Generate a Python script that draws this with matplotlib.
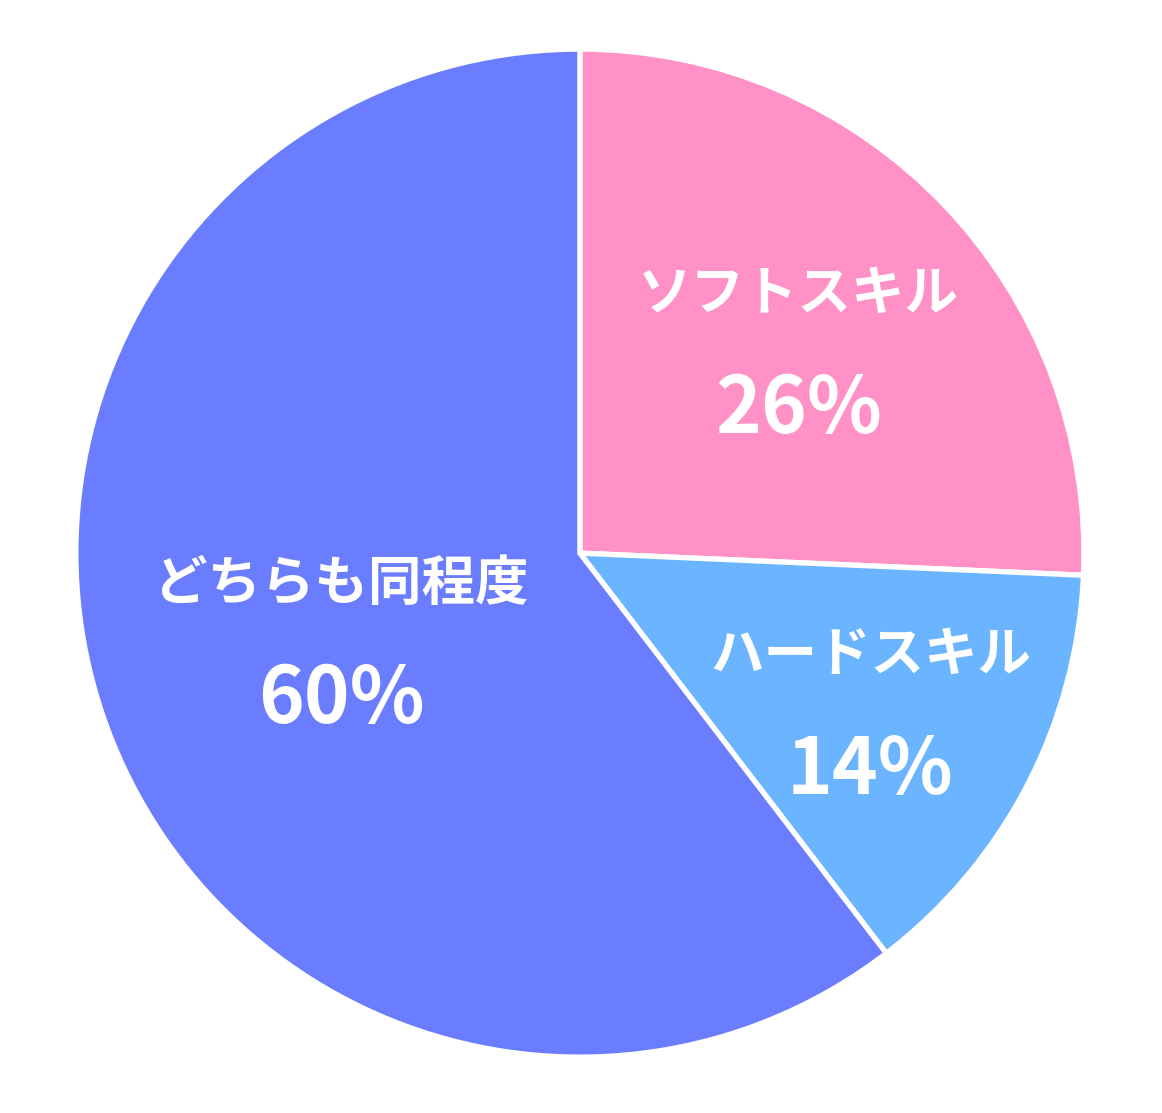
import numpy as np
import matplotlib.pyplot as plt

# slices, clockwise from 12 o'clock
labels = ["ソフトスキル", "ハードスキル", "どちらも同程度"]
shares = [25.7, 13.9, 60.4]
colors = ["#FF91C7", "#6BB4FF", "#6A7DFF"]
label_radius = [0.60, 0.65, 0.50]

plt.rcParams['font.family'] = ['Noto Sans CJK JP', 'DejaVu Sans']

fig = plt.figure(figsize=(11.62, 11.13), dpi=100)
ax = fig.add_axes([0.499 - 0.4337, 0.503 - 0.4528, 0.8675, 0.9057])

wedges, _ = ax.pie(shares, colors=colors, startangle=90, counterclock=False,
                   radius=1.0,
                   wedgeprops=dict(edgecolor="white", linewidth=3.8))

for w, name, pct, r in zip(wedges, labels, shares, label_radius):
    mid = np.deg2rad((w.theta1 + w.theta2) / 2)
    x, y = r * np.cos(mid), r * np.sin(mid) - 0.012
    ax.text(x, y + 0.11, name, ha="center", va="center", color="white",
            fontsize=38.5, fontweight="bold")
    ax.text(x, y - 0.12, f"{round(pct)}%", ha="center", va="center",
            color="white", fontsize=56, fontweight="bold")

ax.set_xlim(-1, 1)
ax.set_ylim(-1, 1)
ax.set_aspect("equal")
ax.axis("off")

fig.savefig("out.png", dpi=100)
